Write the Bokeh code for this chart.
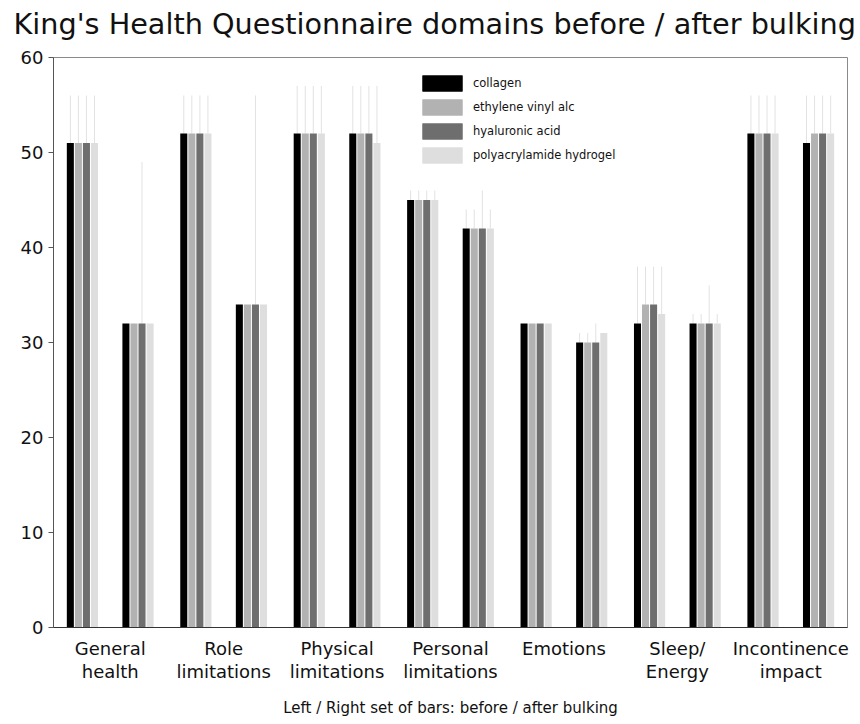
from bokeh.plotting import figure
from bokeh.models import ColumnDataSource, Range1d, FactorRange, Legend, LegendItem, FixedTicker
from bokeh.transform import dodge
from bokeh.embed import file_html
from bokeh.resources import INLINE

categories = ["General\nhealth", "Role\nlimitations", "Physical\nlimitations",
              "Personal\nlimitations", "Emotions", "Sleep/\nEnergy", "Incontinence\nimpact"]
series_names = ["collagen", "ethylene vinyl alc", "hyaluronic acid", "polyacrylamide hydrogel"]

# bar values (before / after bulking)
collagen_before = [51, 52, 52, 45, 32, 32, 52]
collagen_after = [32, 34, 52, 42, 30, 32, 51]
eva_before = [51, 52, 52, 45, 32, 34, 52]
eva_after = [32, 34, 52, 42, 30, 32, 52]
ha_before = [51, 52, 52, 45, 32, 34, 52]
ha_after = [32, 34, 52, 42, 30, 32, 52]
pah_before = [51, 52, 52, 45, 32, 33, 52]
pah_after = [32, 34, 51, 42, 31, 32, 52]

# upper ends of error bars
collagen_before_hi = [56, 56, 57, 46, 32, 38, 56]
collagen_after_hi = [32, 34, 57, 44, 31, 33, 56]
eva_before_hi = [56, 56, 57, 46, 32, 38, 56]
eva_after_hi = [32, 34, 57, 44, 31, 33, 56]
ha_before_hi = [56, 56, 57, 46, 32, 38, 56]
ha_after_hi = [49, 56, 57, 46, 32, 36, 56]
pah_before_hi = [56, 56, 57, 46, 32, 38, 56]
pah_after_hi = [32, 34, 57, 44, 31, 33, 56]

y_ticks = [0, 10, 20, 30, 40, 50, 60]

title_text = "King's Health Questionnaire domains before / after bulking"
x_title = "Left / Right set of bars: before / after bulking"

colors = ["#000000", "#b2b2b2", "#6e6e6e", "#dedede"]
err_color = "#e2e2e2"

before = [collagen_before, eva_before, ha_before, pah_before]
after = [collagen_after, eva_after, ha_after, pah_after]
before_hi = [collagen_before_hi, eva_before_hi, ha_before_hi, pah_before_hi]
after_hi = [collagen_after_hi, eva_after_hi, ha_after_hi, pah_after_hi]

FONT = "DejaVu Sans"
SHIFT = 14  # canvas is shifted up by this many pixels

p = figure(width=856, height=720 + SHIFT,
           x_range=FactorRange(factors=categories, range_padding=0),
           y_range=Range1d(0, 60),
           output_backend="svg", toolbar_location=None,
           min_border_left=53, min_border_right=9,
           min_border_top=57 + SHIFT, min_border_bottom=93)
p.margin = (-SHIFT, 0, 0, 0)

p.title.text = title_text
p.title.text_font = FONT
p.title.text_font_size = "28.7px"
p.title.text_font_style = "normal"
p.title.text_color = "#111111"
p.title.align = "left"
p.title.offset = -40
p.title.standoff = 34

pitch = 0.071
bw = 0.062
group_off = 0.245

legend_items = []
for j, name in enumerate(series_names):
    rends = []
    for g, (vals, his) in enumerate([(before[j], before_hi[j]), (after[j], after_hi[j])]):
        off = (-group_off if g == 0 else group_off) + (j - 1.5) * pitch
        src = ColumnDataSource(dict(cat=categories, val=vals, hi=his))
        xs = dodge("cat", off, range=p.x_range)
        p.segment(x0=xs, y0="val", x1=xs, y1="hi", source=src,
                  line_color=err_color, line_width=1)
        r = p.vbar(x=xs, top="val", bottom=0, width=bw, source=src,
                   fill_color=colors[j], line_color=None)
        rends.append(r)
    legend_items.append(LegendItem(label=name, renderers=rends))

legend = Legend(items=legend_items, location=(364, 462))
legend.glyph_width = 50
legend.glyph_height = 20
legend.label_height = 20
legend.spacing = 4
legend.padding = 0
legend.margin = 0
legend.border_line_color = None
legend.background_fill_alpha = 0
legend.label_standoff = 6
legend.label_text_font = FONT
legend.label_text_font_size = "11.5px"
legend.label_text_color = "#111111"
p.add_layout(legend)

p.xgrid.visible = False
p.ygrid.visible = False
p.outline_line_color = "#8a8a8a"

p.yaxis.ticker = FixedTicker(ticks=y_ticks)
p.yaxis.axis_line_color = "#555555"
p.yaxis.major_tick_line_color = "#555555"
p.yaxis.major_tick_out = 5
p.yaxis.major_tick_in = 0
p.yaxis.minor_tick_line_color = None
p.yaxis.major_label_text_font = FONT
p.yaxis.major_label_text_font_size = "18px"
p.yaxis.major_label_text_color = "#111111"
p.yaxis.major_label_standoff = 5

p.xaxis.axis_line_color = "#333333"
p.xaxis.major_tick_line_color = None
p.xaxis.major_tick_out = 0
p.xaxis.major_tick_in = 0
p.xaxis.minor_tick_line_color = None
p.xaxis.major_label_text_font = FONT
p.xaxis.major_label_text_font_size = "18px"
p.xaxis.major_label_text_line_height = 1.1
p.xaxis.major_label_text_color = "#111111"
p.xaxis.major_label_standoff = 10
p.xaxis.axis_label = x_title
p.xaxis.axis_label_text_font = FONT
p.xaxis.axis_label_text_font_size = "15px"
p.xaxis.axis_label_text_font_style = "normal"
p.xaxis.axis_label_text_color = "#111111"
p.xaxis.axis_label_standoff = 14

open("out.html", "w").write(file_html(p, INLINE))
